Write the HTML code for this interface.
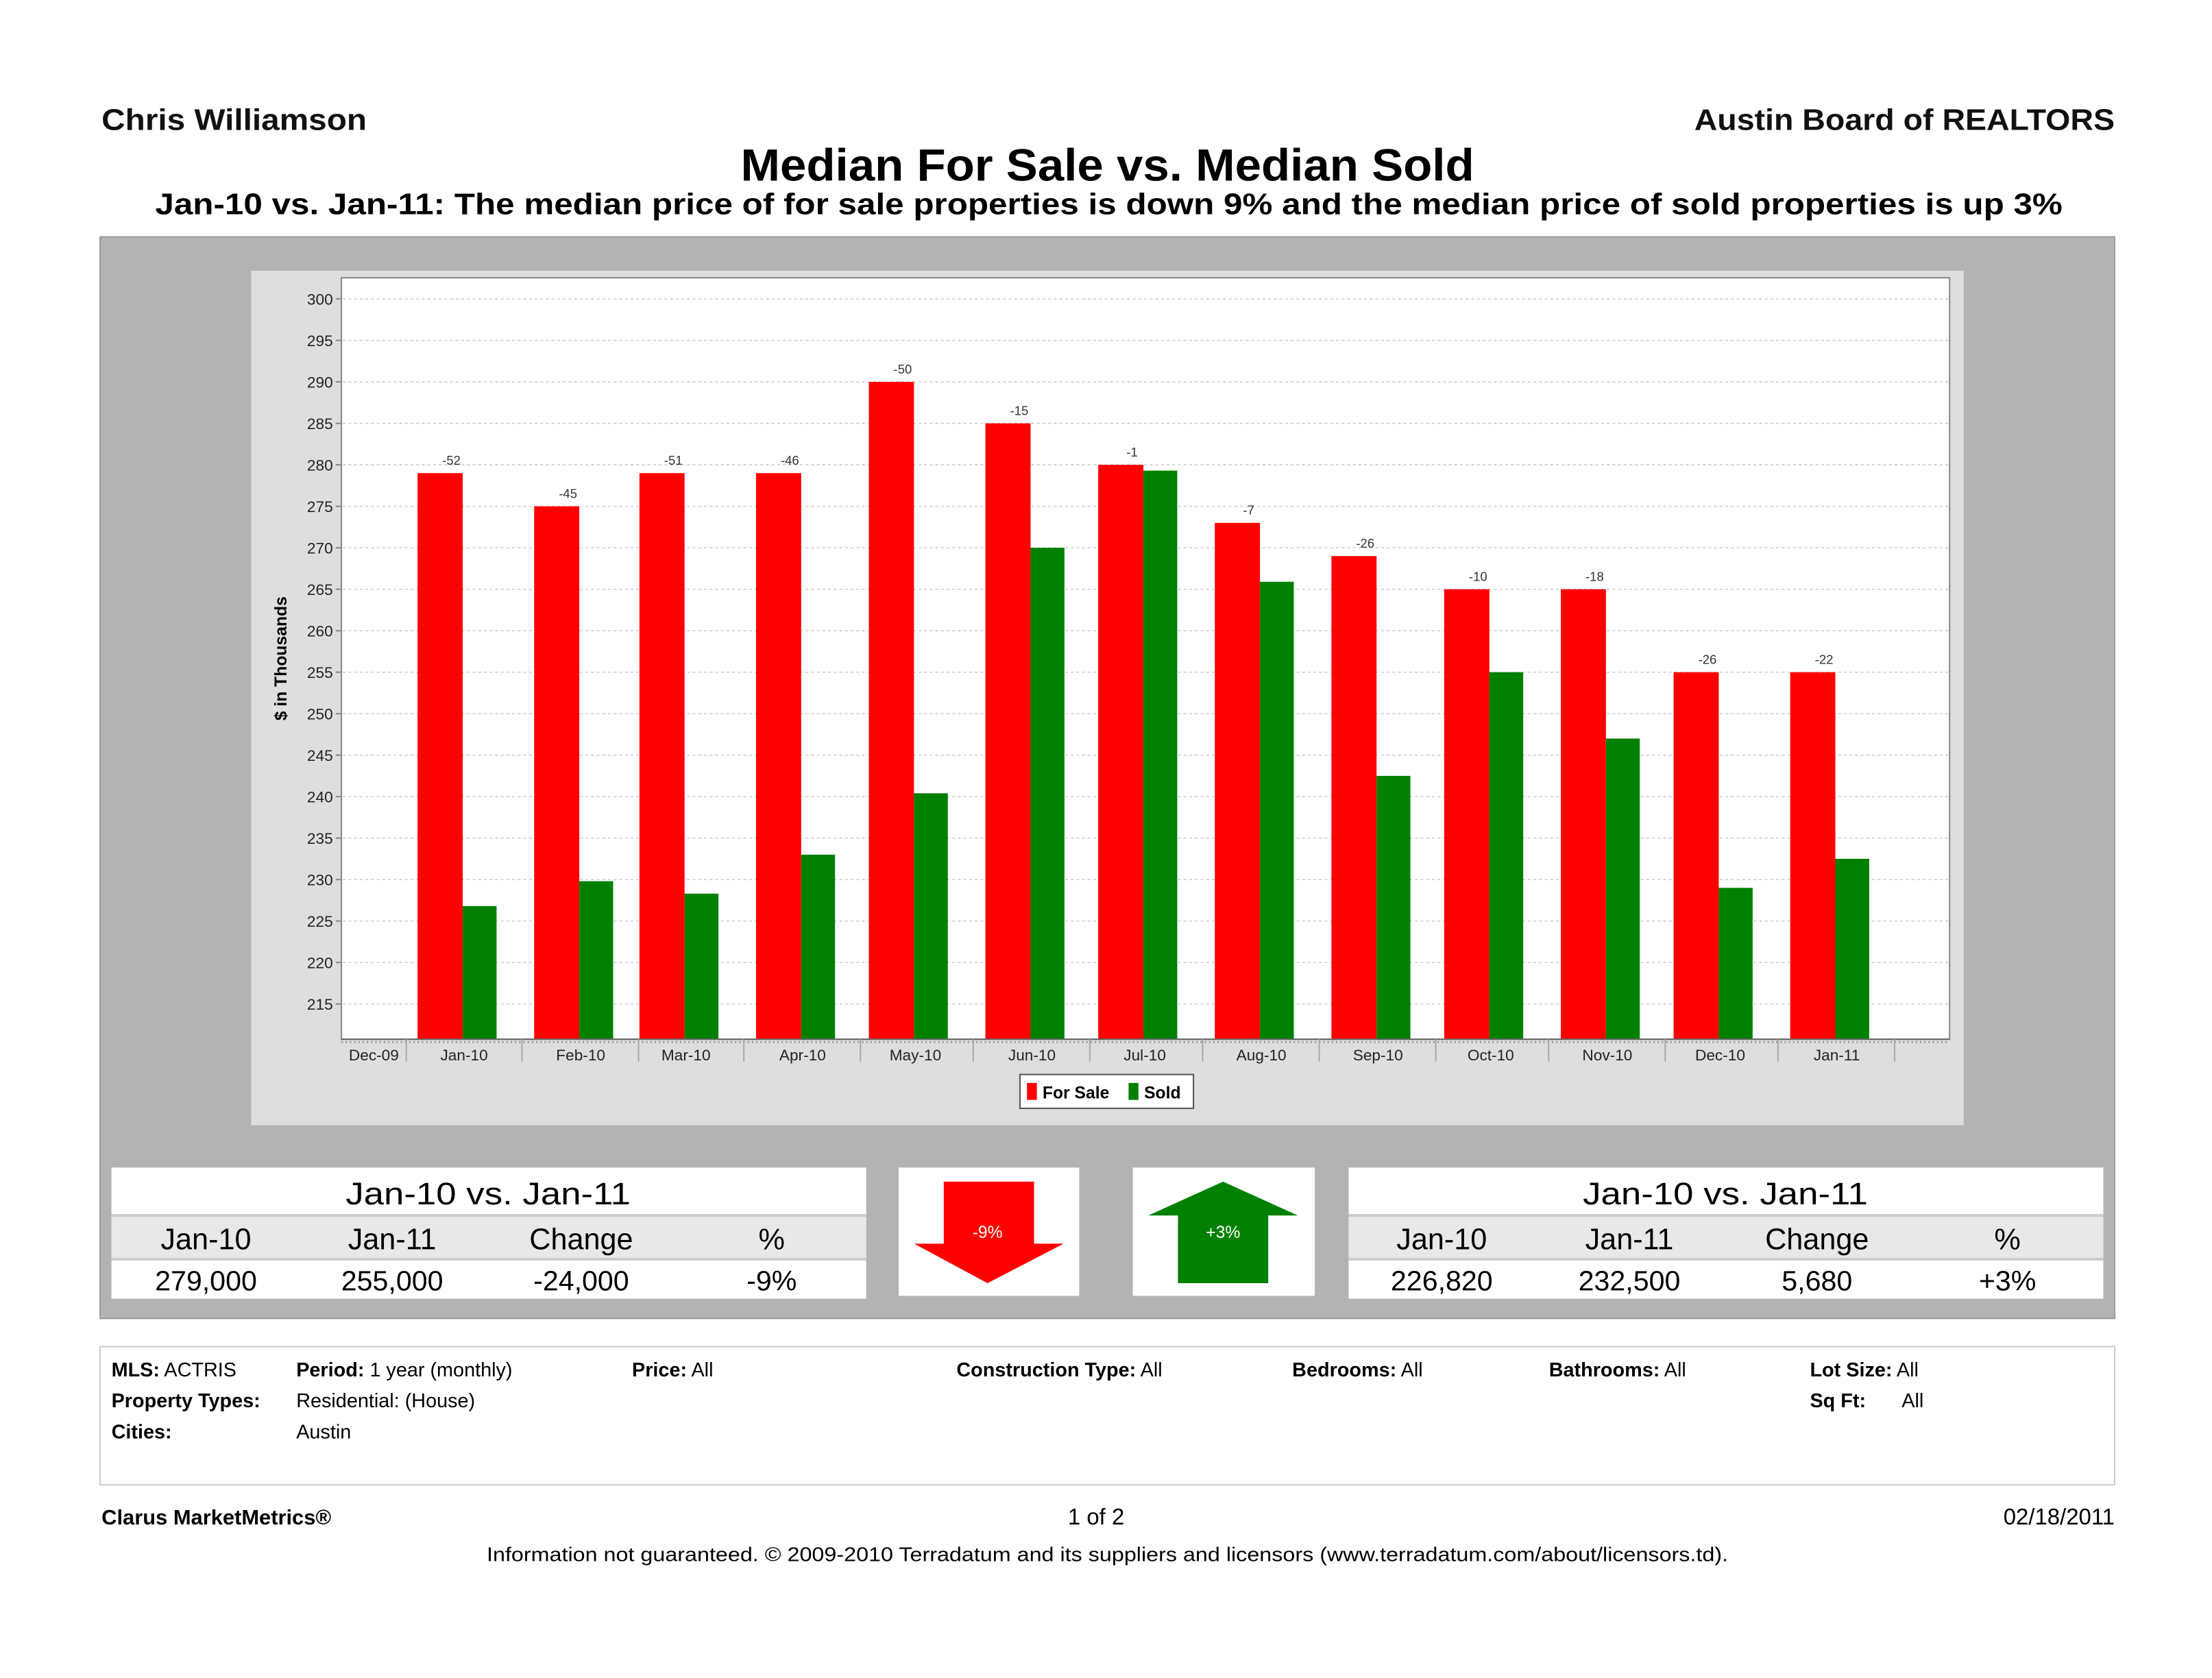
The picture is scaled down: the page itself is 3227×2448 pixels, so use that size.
<!DOCTYPE html>
<html><head><meta charset="utf-8"><style>
html,body{margin:0;padding:0;background:#fff;}
svg{display:block;font-family:"Liberation Sans",sans-serif;}
</style></head><body>
<svg id="page" width="3227" height="2448" viewBox="0 0 1568 1190" preserveAspectRatio="none" xmlns="http://www.w3.org/2000/svg">
<rect width="1568" height="1190" fill="#fff"/>
<text x="72" y="92" font-size="21" font-weight="bold" fill="#111" textLength="188" lengthAdjust="spacingAndGlyphs">Chris Williamson</text>
<text x="1499" y="92" font-size="21" font-weight="bold" fill="#111" text-anchor="end" textLength="298" lengthAdjust="spacingAndGlyphs">Austin Board of REALTORS</text>
<text x="785" y="128" font-size="32" font-weight="bold" fill="#000" text-anchor="middle" textLength="520" lengthAdjust="spacingAndGlyphs">Median For Sale vs. Median Sold</text>
<text x="786" y="152" font-size="21" font-weight="bold" fill="#000" text-anchor="middle" textLength="1352" lengthAdjust="spacingAndGlyphs">Jan-10 vs. Jan-11:  The median price of for sale properties is down 9% and the median price of sold properties is up 3%</text>

<rect x="71" y="168" width="1428" height="767" fill="#b3b3b3" stroke="#999" stroke-width="1"/>
<rect x="178" y="192" width="1214" height="606" fill="#dedede"/>
<rect x="242" y="197" width="1140" height="540" fill="#fff" stroke="#888" stroke-width="1"/>
<g id="grid"></g>
<g id="bars"></g>
<g id="xaxis"></g>
<text transform="translate(203,467) rotate(-90)" font-size="12" font-weight="bold" text-anchor="middle" fill="#000">$ in Thousands</text>

<g>
<rect x="723" y="762" width="123" height="24" fill="#fff" stroke="#555"/>
<rect x="728" y="768" width="7" height="12" fill="#ff0000"/>
<text x="739" y="779" font-size="12" font-weight="bold">For Sale</text>
<rect x="800" y="768" width="7" height="12" fill="#008000"/>
<text x="811" y="779" font-size="12" font-weight="bold">Sold</text>
</g>

<g>
<rect x="79" y="828" width="535" height="93" fill="#fff"/>
<rect x="79" y="863" width="535" height="30" fill="#e8e8e8"/>
<line x1="79" y1="862" x2="614" y2="862" stroke="#ccc" stroke-width="2"/>
<line x1="79" y1="893" x2="614" y2="893" stroke="#ccc" stroke-width="2"/>
<text x="346" y="854" font-size="22" text-anchor="middle" textLength="202" lengthAdjust="spacingAndGlyphs">Jan-10 vs. Jan-11</text>
<text x="146" y="886" font-size="21" text-anchor="middle">Jan-10</text>
<text x="278" y="886" font-size="21" text-anchor="middle">Jan-11</text>
<text x="412" y="886" font-size="21" text-anchor="middle">Change</text>
<text x="547" y="886" font-size="21" text-anchor="middle">%</text>
<text x="146" y="915" font-size="20" text-anchor="middle">279,000</text>
<text x="278" y="915" font-size="20" text-anchor="middle">255,000</text>
<text x="412" y="915" font-size="20" text-anchor="middle">-24,000</text>
<text x="547" y="915" font-size="20" text-anchor="middle">-9%</text>
</g>
<g>
<rect x="637" y="828" width="128" height="91" fill="#fff"/>
<polygon points="669,838 733,838 733,882 754,882 700,910 648,882 669,882" fill="#ff0000"/>
<text x="700" y="878" font-size="12" fill="#fff" text-anchor="middle">-9%</text>
</g>
<g>
<rect x="803" y="828" width="129" height="91" fill="#fff"/>
<polygon points="867,838 920,862 899,862 899,910 835,910 835,862 814,862" fill="#008000"/>
<text x="867" y="878" font-size="12" fill="#fff" text-anchor="middle">+3%</text>
</g>
<g>
<rect x="956" y="828" width="535" height="93" fill="#fff"/>
<rect x="956" y="863" width="535" height="30" fill="#e8e8e8"/>
<line x1="956" y1="862" x2="1491" y2="862" stroke="#ccc" stroke-width="2"/>
<line x1="956" y1="893" x2="1491" y2="893" stroke="#ccc" stroke-width="2"/>
<text x="1223" y="854" font-size="22" text-anchor="middle" textLength="202" lengthAdjust="spacingAndGlyphs">Jan-10 vs. Jan-11</text>
<text x="1022" y="886" font-size="21" text-anchor="middle">Jan-10</text>
<text x="1155" y="886" font-size="21" text-anchor="middle">Jan-11</text>
<text x="1288" y="886" font-size="21" text-anchor="middle">Change</text>
<text x="1423" y="886" font-size="21" text-anchor="middle">%</text>
<text x="1022" y="915" font-size="20" text-anchor="middle">226,820</text>
<text x="1155" y="915" font-size="20" text-anchor="middle">232,500</text>
<text x="1288" y="915" font-size="20" text-anchor="middle">5,680</text>
<text x="1423" y="915" font-size="20" text-anchor="middle">+3%</text>
</g>

<g font-size="14">
<rect x="71" y="955" width="1428" height="98" fill="#fff" stroke="#ccc"/>
<text x="79" y="976"><tspan font-weight="bold">MLS:</tspan> ACTRIS</text>
<text x="210" y="976"><tspan font-weight="bold">Period:</tspan> 1 year (monthly)</text>
<text x="448" y="976"><tspan font-weight="bold">Price:</tspan>  All</text>
<text x="678" y="976"><tspan font-weight="bold">Construction Type:</tspan> All</text>
<text x="916" y="976"><tspan font-weight="bold">Bedrooms:</tspan> All</text>
<text x="1098" y="976"><tspan font-weight="bold">Bathrooms:</tspan> All</text>
<text x="1283" y="976"><tspan font-weight="bold">Lot Size:</tspan> All</text>
<text x="79" y="998" font-weight="bold">Property Types:</text>
<text x="210" y="998">Residential: (House)</text>
<text x="1283" y="998" font-weight="bold">Sq Ft:</text>
<text x="1348" y="998">All</text>
<text x="79" y="1020" font-weight="bold">Cities:</text>
<text x="210" y="1020">Austin</text>
</g>
<text x="72" y="1081" font-size="15" font-weight="bold">Clarus MarketMetrics®</text>
<text x="777" y="1081" font-size="16" text-anchor="middle">1 of 2</text>
<text x="1499" y="1081" font-size="16" text-anchor="end">02/18/2011</text>
<text x="785" y="1107" font-size="14" text-anchor="middle" textLength="880" lengthAdjust="spacingAndGlyphs">Information not guaranteed.  © 2009-2010 Terradatum and its suppliers and licensors (www.terradatum.com/about/licensors.td).</text>
</svg>
<script>
const categories = ["Jan-10","Feb-10","Mar-10","Apr-10","May-10","Jun-10","Jul-10","Aug-10","Sep-10","Oct-10","Nov-10","Dec-10","Jan-11"];
const forSaleValues = [279,275,279,279,290,285,280,273,269,265,265,255,255];
const soldValues = [226.8,229.8,228.3,233,240.4,270,279.3,265.9,242.5,255,247,229,232.5];
const diffLabels = ["-52","-45","-51","-46","-50","-15","-1","-7","-26","-10","-18","-26","-22"];
const yTicks = [215,220,225,230,235,240,245,250,255,260,265,270,275,280,285,290,295,300];

const NS = "http://www.w3.org/2000/svg";
const Y300 = 212, Y215 = 712, BOTTOM = 737;
const MONTHS = ["Jan","Feb","Mar","Apr","May","Jun","Jul","Aug","Sep","Oct","Nov","Dec"];
function dayOf(label){
  const [m, y] = label.split('-');
  return Date.UTC(2000 + parseInt(y, 10), MONTHS.indexOf(m), 1) / 86400000;
}
const D0 = dayOf(categories[0]), D1 = dayOf(categories[categories.length-1]);
function yScale(v){ return Y215 + (v-215)*(Y300-Y215)/(300-215); }
function xScale(i){ return 329 + (dayOf(categories[i]) - D0) * (1302-329) / (D1 - D0); }
function mk(tag, attrs, parent, txt){
  const el = document.createElementNS(NS, tag);
  for (const k in attrs) el.setAttribute(k, attrs[k]);
  if (txt !== undefined) el.textContent = txt;
  parent.appendChild(el); return el;
}
const grid = document.getElementById('grid');
yTicks.forEach(t => {
  const y = yScale(t);
  const l = mk('line', {x1:243, x2:1381, y1:y, y2:y, stroke:'#cfcfcf', 'stroke-dasharray':'2,2', 'stroke-width':0.8}, grid);
  
  
  mk('line', {x1:238, x2:242, y1:y, y2:y, stroke:'#888'}, grid);
  const tx = mk('text', {x:236, y:y+4, 'font-size':11, 'text-anchor':'end', fill:'#222'}, grid, String(t));
  
  
});
const bars = document.getElementById('bars');
categories.forEach((c, i) => {
  const cx = xScale(i);
  const yr = yScale(forSaleValues[i]);
  const r = mk('rect', {x:cx-33, y:yr, width:32, height:BOTTOM-yr, fill:'#ff0000'}, bars);
  
  
  const ys = yScale(soldValues[i]);
  const g = mk('rect', {x:cx-1, y:ys, width:24, height:BOTTOM-ys, fill:'#008000'}, bars);
  
  
  const lb = mk('text', {x:cx-9, y:yr-6, 'font-size':9, 'text-anchor':'middle', fill:'#333'}, bars, diffLabels[i]);
  
  
});
const xa = document.getElementById('xaxis');
mk('line', {x1:242, x2:1382, y1:BOTTOM, y2:BOTTOM, stroke:'#666', 'stroke-width':1}, xa);
mk('line', {x1:242, x2:1382, y1:BOTTOM+2, y2:BOTTOM+2, stroke:'#999', 'stroke-width':1.5, 'stroke-dasharray':'1,2'}, xa);
const d0 = mk('text', {x:265, y:752, 'font-size':11, 'text-anchor':'middle', fill:'#222'}, xa, 'Dec-09');


mk('line', {x1:288, x2:288, y1:BOTTOM, y2:BOTTOM+16, stroke:'#aaa'}, xa);
categories.forEach((c, i) => {
  const cx = xScale(i);
  const t = mk('text', {x:cx, y:752, 'font-size':11, 'text-anchor':'middle', fill:'#222'}, xa, c);
  
  
  mk('line', {x1:cx+41, x2:cx+41, y1:BOTTOM, y2:BOTTOM+16, stroke:'#aaa'}, xa);
});
</script>
</body></html>
